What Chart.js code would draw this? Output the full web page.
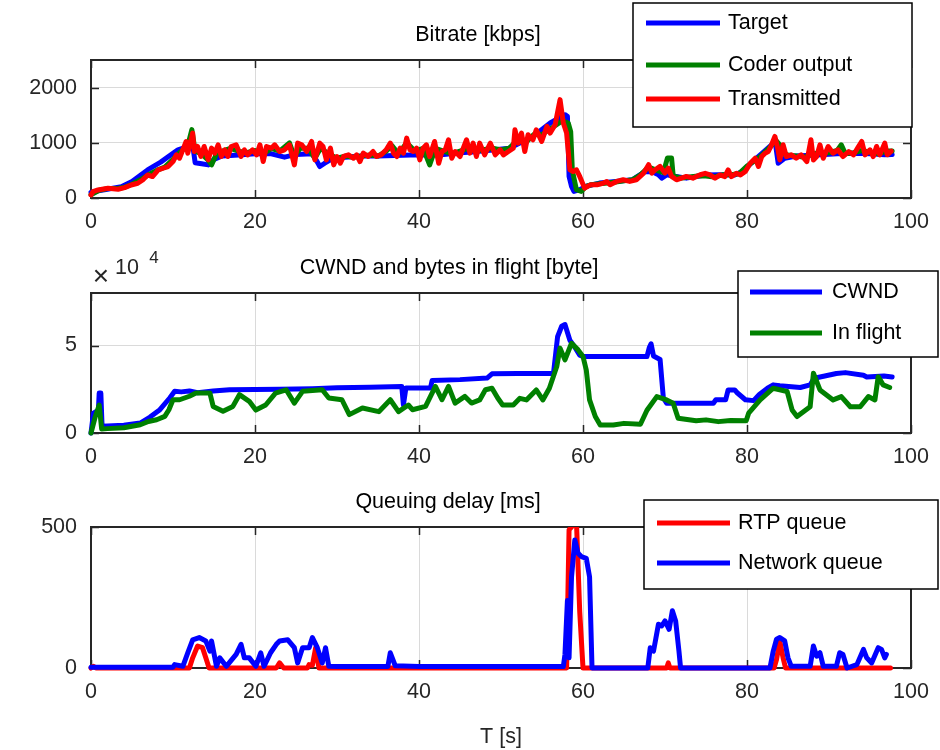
<!DOCTYPE html>
<html><head><meta charset="utf-8">
<script src="https://cdn.jsdelivr.net/npm/chart.js@4.4.1/dist/chart.umd.min.js"></script>
<style>
html,body{margin:0;padding:0;background:#fff;}
#wrap{position:relative;width:940px;height:750px;overflow:hidden;}
canvas{position:absolute;left:0;}
</style></head><body>
<div id="wrap">
<canvas id="c1" width="940" height="240" style="top:0px"></canvas>
<canvas id="c2" width="940" height="234" style="top:240px"></canvas>
<canvas id="c3" width="940" height="276" style="top:474px"></canvas>
</div>
<script>
// ---------------- data (time [s], value) ----------------
const xTicks = [0, 20, 40, 60, 80, 100];
const bitrateTicks = [0, 1000, 2000];
const cwndTicks = [0, 50000];
const delayTicks = [0, 500];

const titles = ['Bitrate [kbps]', 'CWND and bytes in flight [byte]', 'Queuing delay [ms]'];
const xAxisTitle = 'T [s]';

// Bitrate [kbps]
const target = [[0,100],[0.5,120],[2,160],[3.7,206],[5,300],[6.9,509],[8.5,650],[10.6,873],[11.8,933],[12.4,960],[12.7,640],[13.5,620],[14.3,600],[15,700],[16,760],[18,780],[20,800],[22,800],[23.6,740],[25,790],[27,800],[27.5,680],[27.9,570],[28.5,630],[29.5,720],[31,740],[33,760],[35,760],[37,770],[39,780],[41,780],[43,790],[45,820],[47,840],[49,870],[51,900],[53.9,1115],[56,1358],[57.8,1509],[58.1,1480],[58.3,391],[58.6,212],[58.9,120],[59.6,150],[60.4,212],[62,270],[64,300],[66,330],[67.6,482],[68.5,470],[69.2,421],[69.6,360],[70.2,420],[71,400],[72.6,360],[74.9,418],[76.5,420],[78.5,418],[79.4,479],[81,700],[83,964],[83.4,1055],[83.8,630],[84.6,721],[86,760],[89,782],[91,800],[93.1,812],[95,800],[96.8,782],[97.7,790]];

const coderOutput = [[0,60],[1,140],[2,170],[3,170],[4,190],[5,250],[6,330],[7,420],[8,500],[9,560],[10,700],[11,850],[11.8,950],[12.3,1240],[12.7,850],[13.5,800],[14.2,700],[14.7,600],[15.3,800],[16,850],[17,900],[18,850],[19,820],[20,860],[21,800],[22,900],[23,850],[24.2,1000],[24.8,750],[25.5,900],[26.5,900],[27.3,720],[28,900],[29,800],[30,720],[31,760],[32,740],[33,760],[34,780],[35,760],[36,850],[36.7,950],[37.5,800],[38.5,1000],[39.5,850],[40.5,900],[41.3,600],[42,900],[43,850],[44,800],[45,850],[46,900],[47,850],[48,880],[49,900],[50,870],[51,900],[52,1050],[53,1000],[54,1150],[55,1150],[56,1250],[57,1350],[57.5,1400],[58.2,1358],[58.5,1200],[58.7,500],[59.2,150],[59.8,120],[60.4,212],[61,240],[62,260],[63,270],[64,290],[65,310],[66,330],[67,420],[68,560],[69,500],[69.8,460],[70.3,724],[70.8,724],[71,400],[72,360],[73,380],[74,400],[75,400],[76,380],[77,420],[78,420],[79,440],[80,580],[81,680],[82,800],[83,950],[83.5,1050],[84,964],[84.5,800],[85,780],[86,760],[87,740],[88,800],[89,820],[90,820],[91,860],[91.5,964],[92,800],[93,820],[94,860],[95,830],[96,800],[97,850],[97.7,850]];

const transmitted = [[0,55],[0.24,115],[0.85,145],[2.07,176],[3.3,158],[4.1,188],[4.9,236],[5.7,267],[6.3,327],[6.9,418],[7.5,388],[8.2,509],[8.8,539],[9.4,570],[10,660],[10.4,782],[10.8,721],[11.2,873],[11.6,1024],[11.8,812],[12.4,1176],[12.6,842],[13,933],[13.4,752],[13.8,933],[14.3,691],[14.7,903],[15.1,812],[15.5,964],[15.9,752],[16.3,873],[16.7,752],[17.1,933],[17.7,964],[18.3,752],[18.7,873],[19.1,782],[19.7,873],[20.2,782],[20.6,964],[21,660],[21.4,933],[22,903],[22.4,964],[23,842],[23.6,873],[24.2,964],[24.8,600],[25.2,994],[25.7,964],[26.3,842],[26.9,1024],[27.3,691],[27.9,994],[28.3,933],[28.7,691],[29.2,903],[29.6,600],[30,752],[30.4,630],[30.8,752],[31.4,782],[32,721],[32.4,782],[32.8,660],[33.2,812],[33.8,752],[34.4,842],[34.8,752],[35.4,782],[36,873],[36.5,994],[36.9,812],[37.3,752],[37.7,903],[38.1,812],[38.5,1085],[38.9,873],[39.3,842],[39.7,903],[40.1,691],[40.5,903],[40.9,964],[41.3,752],[41.9,1024],[42.4,630],[42.8,842],[43.2,873],[43.6,1055],[44,721],[44.4,842],[45,752],[45.4,903],[45.8,1055],[46.2,812],[46.6,994],[47,752],[47.4,994],[48,782],[48.7,994],[49.3,782],[49.9,873],[50.3,782],[50.9,843],[51.5,903],[51.7,1236],[52.1,994],[52.5,1176],[52.9,843],[53.3,1145],[53.9,1055],[54.3,1236],[54.96,1024],[55.6,1297],[56,1176],[56.6,1327],[57.2,1782],[57.6,1358],[58,1176],[58.4,512],[58.8,482],[59.2,512],[59.6,391],[60.2,179],[60.9,239],[61.7,239],[62.5,270],[62.9,300],[63.3,239],[64.1,300],[64.9,330],[65.7,300],[66.5,330],[67.4,451],[68,603],[68.4,451],[68.8,512],[69.4,573],[70,451],[70.4,542],[70.8,391],[71.4,330],[72,360],[72.6,391],[73.4,360],[74.3,421],[74.9,448],[75.5,418],[76.1,358],[76.7,418],[77.3,388],[77.7,509],[78.1,388],[78.7,448],[79.2,418],[79.8,479],[80.4,630],[81,721],[81.4,570],[81.8,751],[82.2,812],[82.6,842],[83,964],[83.4,1115],[83.7,933],[84,690],[84.4,964],[84.8,751],[85.4,782],[86,721],[86.6,782],[87.3,660],[87.8,1055],[88.1,690],[88.5,751],[88.9,964],[89.3,721],[89.9,933],[90.5,812],[91.1,872],[91.7,751],[92.4,842],[93,782],[93.6,933],[94,1024],[94.4,782],[95,872],[95.4,751],[95.8,933],[96.2,782],[96.8,994],[97.1,782],[97.6,850]];

// CWND and bytes in flight [byte]
const cwnd = [[0,0],[0.3,11400],[0.9,13000],[1.0,22800],[1.2,22800],[1.35,3800],[2,4000],[4,4500],[6,5700],[7.2,9100],[8.4,13300],[9.6,20000],[10.2,23800],[11,23500],[12,24000],[13,23000],[14.9,24000],[16.9,24700],[20,24800],[23,25000],[27,25300],[30,25800],[34,26200],[37.9,26600],[38.1,16000],[38.4,25700],[41.4,25700],[41.6,30000],[45,30500],[48.3,31400],[48.9,33800],[52,34000],[56.4,34000],[56.9,55000],[57.4,61000],[57.8,62000],[58.4,53000],[59,49000],[59.6,44500],[60,43700],[67.8,43700],[68.1,49000],[68.3,51000],[68.6,44000],[69.4,42000],[69.8,20000],[70.2,17000],[75.9,17000],[76.2,19000],[77.4,19000],[77.7,24600],[78.5,24600],[78.8,23000],[79.8,19000],[80.8,18500],[81.5,22000],[82.5,25600],[83.2,27500],[84,27000],[86.5,26000],[87.7,27500],[88.2,31300],[90.9,34000],[92,34500],[94.2,33000],[94.6,32000],[96.7,32600],[97.7,32000]];

const inFlight = [[0,0],[0.5,9000],[1.0,16000],[1.3,2300],[2,2500],[4,3000],[6,4700],[7,6600],[8,7600],[9,9500],[9.5,13300],[10,19000],[10.8,19000],[12,21000],[12.8,22800],[14.5,22800],[14.9,15200],[16.1,12400],[17.3,15200],[18.1,21900],[19.3,18100],[20.1,13100],[21.3,16000],[22.5,22800],[23.8,24700],[24.8,17100],[25.8,23800],[28.2,24700],[29,20000],[30.6,19000],[31.5,10500],[33.1,14300],[35.1,12200],[36.5,19000],[37.5,12200],[38.7,16000],[39.2,13300],[40.8,15200],[42,26600],[42.8,19000],[43.6,26600],[44.4,17100],[45.6,20900],[46.4,17100],[47.4,18900],[48.1,24700],[48.9,25600],[49.6,20000],[50.2,16000],[51.5,16000],[52.3,19800],[53.1,18900],[54.3,24600],[55.1,18900],[55.9,25600],[56.8,38000],[57.2,48500],[57.8,41800],[58.6,51300],[59.4,47500],[60,43700],[60.4,36000],[60.8,18900],[61.5,9400],[62.1,4600],[63.7,4600],[65,5500],[67,5000],[67.8,13000],[69,20800],[70.2,18900],[71,17000],[71.6,8400],[73.8,7000],[75,7500],[76.5,6500],[78,7200],[79.9,7000],[80.2,11300],[81.6,18900],[83.2,25600],[84.9,23700],[85.5,13200],[86.1,9400],[87.7,15000],[88.1,34200],[88.9,24600],[90.5,18900],[91.5,20800],[92.6,15000],[93.8,15000],[94.8,20800],[95.6,18900],[96,32200],[96.6,27500],[97.4,26000]];

// Queuing delay [ms]
const rtpQueue = [[0,0],[0.3,6],[0.6,0],[12,0],[12.4,36],[13,78],[13.6,72],[14,36],[14.4,0],[22.6,0],[23,18],[23.5,0],[26.4,0],[26.6,12],[27,10],[27.4,72],[27.8,0],[58,0],[58.3,490],[59.2,520],[59.6,200],[60,0],[70.2,0],[70.4,18],[70.6,0],[83.3,0],[83.6,30],[84,96],[84.4,36],[84.7,0],[97.5,0]];

const networkQueue = [[0,3],[10,3],[10.2,12],[11.2,6],[11.8,54],[12.4,100],[13.2,108],[14,96],[14.5,60],[14.7,96],[15.3,6],[15.7,36],[16.5,6],[17.7,48],[18.3,84],[18.7,36],[19.3,36],[20.1,6],[20.7,54],[21.1,6],[21.9,54],[22.6,84],[23,96],[24,100],[24.8,72],[25.2,18],[25.8,72],[26.6,72],[27,108],[27.6,72],[28.2,18],[28.6,72],[29,6],[30,5],[36.2,5],[36.5,54],[37.1,8],[40,5],[50,5],[57.6,5],[57.8,48],[58.1,239],[58.3,36],[58.6,323],[59,454],[59.4,407],[59.8,395],[60.4,389],[60.8,323],[61.1,0],[67.9,0],[68.2,72],[68.6,60],[69.2,155],[69.6,149],[70,167],[70.5,137],[70.9,203],[71.3,167],[71.7,60],[71.9,0],[82.8,0],[83.2,60],[83.6,102],[84,108],[84.6,96],[85,36],[85.4,6],[87.7,6],[88.1,78],[88.5,42],[88.9,54],[89.3,6],[90.9,6],[91.3,54],[91.7,48],[92.2,0],[93.4,12],[94.2,66],[94.6,36],[95.2,18],[96,72],[96.4,66],[96.8,36],[97,48]];

// ---------------- rendering ----------------
const FONT_FAMILY = "'Liberation Sans', Arial, Helvetica, sans-serif";
const FONT_SIZE = 21.5;
Chart.defaults.font.family = FONT_FAMILY;
Chart.defaults.font.size = FONT_SIZE;
Chart.defaults.color = '#262626';

const toPts = arr => arr.map(p => ({x: p[0], y: p[1]}));

const boxPlugin = {
  id: 'matBox',
  beforeDatasetsDraw(chart) {
    const {ctx, chartArea: a, scales} = chart;
    ctx.save();
    ctx.strokeStyle = '#262626';
    ctx.lineWidth = 1.5;
    const tl = 8;
    ctx.beginPath();
    scales.x.ticks.forEach(t => {
      const px = Math.round(scales.x.getPixelForValue(t.value)) + 0.5;
      ctx.moveTo(px, a.bottom); ctx.lineTo(px, a.bottom - tl);
      ctx.moveTo(px, a.top); ctx.lineTo(px, a.top + tl);
    });
    scales.y.ticks.forEach(t => {
      const py = Math.round(scales.y.getPixelForValue(t.value)) + 0.5;
      ctx.moveTo(a.left, py); ctx.lineTo(a.left + tl, py);
      ctx.moveTo(a.right, py); ctx.lineTo(a.right - tl, py);
    });
    ctx.stroke();
    ctx.lineWidth = 2;
    ctx.strokeRect(a.left, a.top, a.right - a.left, a.bottom - a.top);
    ctx.restore();
  }
};

const titlePlugin = {
  id: 'panelTitle',
  afterDraw(chart, args, o) {
    const ctx = chart.ctx;
    ctx.save();
    ctx.fillStyle = '#000';
    ctx.font = FONT_SIZE + 'px ' + FONT_FAMILY;
    ctx.textAlign = 'center';
    ctx.textBaseline = 'middle';
    ctx.fillText(o.text, o.x, o.y);
    if (o.exponent) {
      ctx.fillStyle = '#262626';
      ctx.font = '28px ' + FONT_FAMILY;
      ctx.fillText('\u00d7', 101, 37);
      ctx.font = FONT_SIZE + 'px ' + FONT_FAMILY;
      ctx.fillText('10', 127, 28);
      ctx.font = '17px ' + FONT_FAMILY;
      ctx.fillText(o.exponent, 154, 18);
    }
    ctx.restore();
  }
};

const legendPlugin = {
  id: 'boxLegend',
  afterDraw(chart, args, o) {
    const ctx = chart.ctx;
    ctx.save();
    ctx.fillStyle = '#fff';
    ctx.fillRect(o.box[0], o.box[1], o.box[2] - o.box[0], o.box[3] - o.box[1]);
    ctx.strokeStyle = '#000';
    ctx.lineWidth = 1.5;
    ctx.strokeRect(o.box[0], o.box[1], o.box[2] - o.box[0], o.box[3] - o.box[1]);
    o.items.forEach((idx, k) => {
      const ds = chart.data.datasets[idx];
      const y = o.rows[k];
      ctx.strokeStyle = ds.borderColor;
      ctx.lineWidth = 5;
      ctx.beginPath();
      ctx.moveTo(o.line[0], y); ctx.lineTo(o.line[1], y);
      ctx.stroke();
      ctx.fillStyle = '#000';
      ctx.font = FONT_SIZE + 'px ' + FONT_FAMILY;
      ctx.textAlign = 'left';
      ctx.textBaseline = 'middle';
      ctx.fillText(ds.label, o.textX, y);
    });
    ctx.restore();
  }
};

function lineDs(label, data, color, order) {
  return {
    label, data: toPts(data), borderColor: color, backgroundColor: color,
    borderWidth: 5, pointRadius: 0, tension: 0, order,
    borderJoinStyle: 'round', borderCapStyle: 'round',
    clip: {left: 4, right: 4, top: 0, bottom: 4}
  };
}

function makeChart(id, cfg) {
  const canvas = document.getElementById(id);
  const H = canvas.height;
  return new Chart(canvas, {
    type: 'line',
    data: {datasets: cfg.datasets},
    plugins: [boxPlugin, titlePlugin, legendPlugin],
    options: {
      responsive: false, animation: false, parsing: true,
      layout: {padding: {left: 0, right: 29, top: cfg.top, bottom: 0}},
      plugins: {
        legend: {display: false}, tooltip: {enabled: false}, title: {display: false},
        panelTitle: cfg.title,
        boxLegend: cfg.legend
      },
      scales: {
        x: {
          type: 'linear', min: 0, max: 100,
          afterBuildTicks: s => { s.ticks = xTicks.map(v => ({value: v})); },
          afterFit: s => { s.height = H - cfg.bottom; },
          grid: {color: '#dadada', lineWidth: 1, drawTicks: false},
          border: {display: false},
          ticks: {padding: 11, maxRotation: 0, autoSkip: false, color: '#262626'},
          title: cfg.xTitle ? {display: true, text: cfg.xTitle, color: '#262626', padding: {top: 0, bottom: 0}} : {display: false}
        },
        y: {
          type: 'linear', min: cfg.ymin, max: cfg.ymax,
          afterBuildTicks: s => { s.ticks = cfg.yTicks.map(v => ({value: v})); },
          afterFit: s => { s.width = 91; },
          grid: {color: '#dadada', lineWidth: 1, drawTicks: false},
          border: {display: false},
          ticks: {padding: 14, color: '#262626', callback: cfg.yFmt || (v => String(v))}
        }
      }
    }
  });
}

makeChart('c1', {
  top: 60, bottom: 198, ymin: 0, ymax: 2500, yTicks: bitrateTicks,
  datasets: [
    lineDs('Target', target, '#0000ff', 3),
    lineDs('Coder output', coderOutput, '#008000', 2),
    lineDs('Transmitted', transmitted, '#ff0000', 1)
  ],
  title: {text: titles[0], x: 478, y: 35},
  legend: {box: [633, 3, 912, 127], line: [646, 720], textX: 728, rows: [23, 65, 99], items: [0, 1, 2]}
});

makeChart('c2', {
  top: 53, bottom: 193, ymin: 0, ymax: 80000, yTicks: cwndTicks,
  yFmt: v => String(v / 10000),
  datasets: [
    lineDs('CWND', cwnd, '#0000ff', 2),
    lineDs('In flight', inFlight, '#008000', 1)
  ],
  title: {text: titles[1], x: 449, y: 28, exponent: '4'},
  legend: {box: [738, 31, 938, 117], line: [750, 822], textX: 832, rows: [52, 93], items: [0, 1]}
});

makeChart('c3', {
  top: 53, bottom: 194, ymin: 0, ymax: 500, yTicks: delayTicks,
  xTitle: xAxisTitle,
  datasets: [
    lineDs('RTP queue', rtpQueue, '#ff0000', 2),
    lineDs('Network queue', networkQueue, '#0000ff', 1)
  ],
  title: {text: titles[2], x: 448, y: 28},
  legend: {box: [644, 26, 938, 115], line: [657, 730], textX: 738, rows: [49, 89], items: [0, 1]}
});
</script>
</body></html>
